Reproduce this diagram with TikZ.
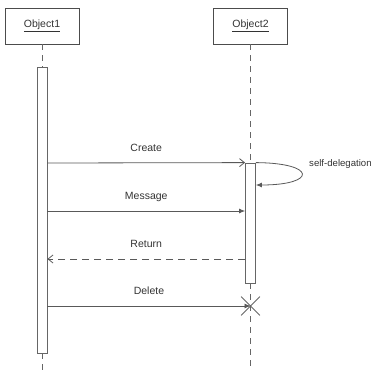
\documentclass[tikz,border=0pt]{standalone}
\usepackage{fontspec}
\setmainfont{Liberation Sans}
\usetikzlibrary{arrows.meta,positioning,shapes.misc}

\begin{document}
\begin{tikzpicture}[x=1pt, y=-1pt,
    object/.style={rectangle, draw=black!70, thick, minimum width=74pt, minimum height=36pt, inner sep=1pt, font=\fontsize{10.5}{12}\selectfont, text=black!80},
    activation/.style={rectangle, draw=black!60, thick, fill=white, minimum width=10pt, inner sep=0pt},
    lifeline/.style={draw=black!60, thick, dash pattern=on 6pt off 5pt},
    call/.style={draw=black!65, thick, -{Latex[length=6pt, width=5pt]}},
    create/.style={draw=black!65, thick, -{Straight Barb[length=5pt, width=8pt]}},
    reply/.style={draw=black!65, thick, dash pattern=on 7pt off 5pt, -{Straight Barb[length=5pt, width=8pt]}},
    lbl/.style={font=\fontsize{10.5}{12}\selectfont, text=black!80, inner sep=1pt, text depth=0pt}
]
\useasboundingbox (0,0) rectangle (378,370);

% objects
\node[object] (obj1) at (42,26)    {\underline{Object1}};
\node[object] (obj2) at (250.5,26) {\underline{Object2}};

% activations
\node[activation, minimum height=286pt] (act1) at (42,210)    {};
\node[activation, minimum height=120pt] (act2) at (250.5,223) {};

% message levels
\coordinate (yCreate)  at (0,163);
\coordinate (ySelf)    at (0,185);
\coordinate (yMessage) at (0,211);
\coordinate (yReturn)  at (0,259);
\coordinate (yDelete)  at (0,306);
\coordinate (end1) at (42,370);
\coordinate (end2) at (250.5,370);

% destruction mark
\node[cross out, draw=black!60, thick, minimum size=18pt, inner sep=0pt] (del) at (250.5,306) {};

% lifelines
\draw[lifeline] (obj1.south) -- (act1.north);
\draw[lifeline] (act1.south) -- (end1);
\draw[lifeline] (obj2.south) -- (act2.north);
\draw[lifeline] (act2.south) -- (end2);

% messages
\draw[create] (act1.east |- yCreate) -- node[lbl, above=10pt] {Create} (act2.north west);
\draw[call] (act2.north east) .. controls (317,163) and (317,185) .. (act2.east |- ySelf);
\node[lbl, anchor=west, font=\fontsize{9.6}{11}\selectfont, inner sep=0pt] (selfl) at (309,163) {self-delegation};
\draw[call] (act1.east |- yMessage) -- node[lbl, above=10pt] {Message} (act2.west |- yMessage);
\draw[reply] (act2.west |- yReturn) -- node[lbl, above=10pt] {Return} (act1.east |- yReturn);
\draw[call] (act1.east |- yDelete) -- node[lbl, above=10pt] {Delete} (del.center);
\end{tikzpicture}
\end{document}
